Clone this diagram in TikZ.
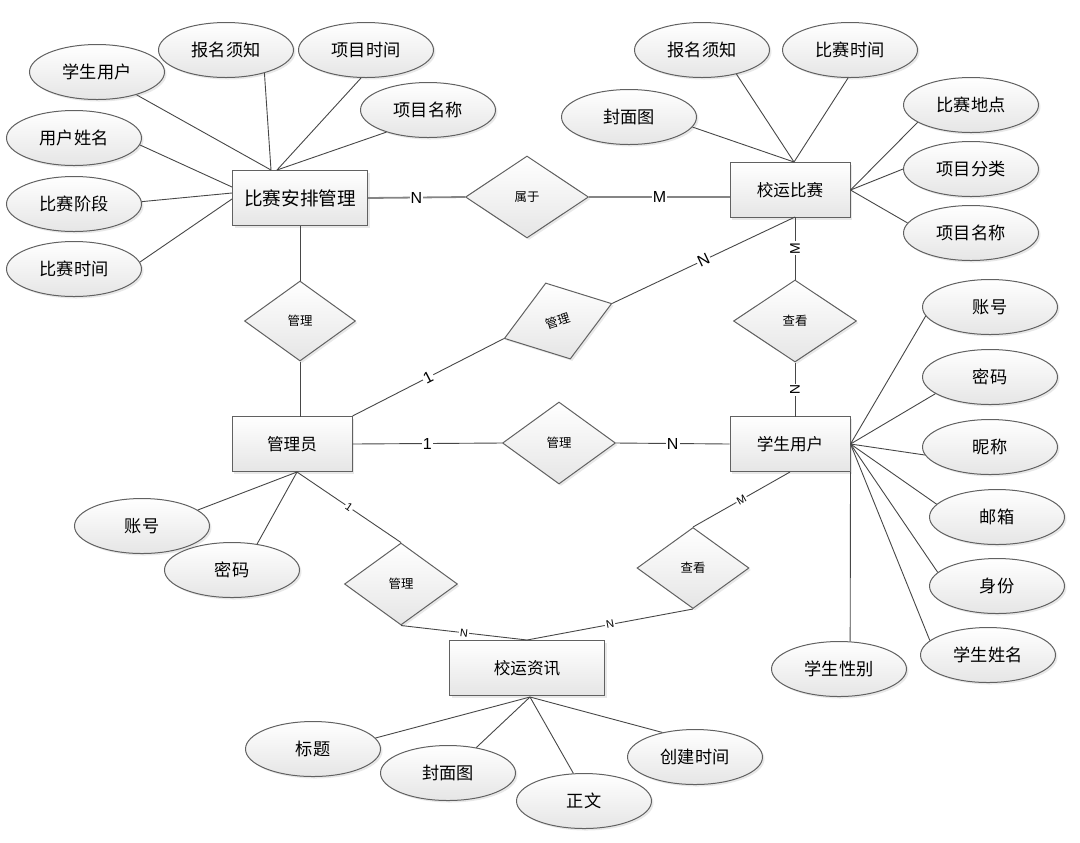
\documentclass[tikz,border=0pt]{standalone}
\usepackage{fontspec}
\newfontfamily\cjk{Noto Sans CJK SC}
\newfontfamily\labfont{Liberation Sans}
\usetikzlibrary{shapes.geometric,shadows}
\tikzset{
 shd/.style={top color=white,bottom color=black!10,draw=black!62,line width=.5pt,
  drop shadow={opacity=.18,shadow xshift=1pt,shadow yshift=-1pt}},
 ent/.style={shd,rectangle,minimum width=60pt,minimum height=27.5pt,inner sep=0pt,
  font=\cjk\fontsize{8.3}{8.3}\selectfont},
 att/.style={shd,ellipse,minimum width=67.5pt,minimum height=27.5pt,inner sep=0pt,
  font=\cjk\fontsize{8.6}{8.6}\selectfont},
 rel/.style={shd,diamond,minimum width=56.5pt,minimum height=41pt,inner sep=0pt,
  font=\cjk\fontsize{6.2}{6.2}\selectfont},
 card/.style={fill=white,inner sep=.6pt,font=\labfont\fontsize{8}{8}\selectfont},
 cardv/.style={card,sloped,font=\labfont\fontsize{7}{7}\selectfont},
 cards/.style={card,sloped,font=\labfont\fontsize{5.5}{5.5}\selectfont},
 ln/.style={draw=black!72,line width=.45pt},
 lnb/.style={draw=black!48,line width=.9pt}
}
\begin{document}
\begin{tikzpicture}[x=.5pt,y=-.5pt]
 \useasboundingbox (0,0) rectangle (1080,842);
 \path
 (300,198) node[ent,minimum width=67.5pt,font=\cjk\fontsize{9.3}{9.3}\selectfont] (ap) {比赛安排管理} % <<< 实体
 (790,190) node[ent] (xb) {校运比赛}
 (292,444) node[ent] (gly) {管理员}
 (790,444) node[ent] (su) {学生用户}
 (527,668) node[ent,minimum width=77.5pt] (zx) {校运资讯};
 \path
 (527,197) node[rel,minimum width=61.5pt] (sy) {属于} % <<< 联系
 (300,321) node[rel,minimum width=55.5pt,minimum height=40pt] (gl1) {管理}
 (558,321) node[rel,minimum height=40pt,rotate=18] (gl2) {管理}
 (559,443) node[rel] (gl3) {管理}
 (795,321) node[rel,minimum width=61.5pt] (ck1) {查看}
 (401,584) node[rel] (gl4) {管理}
 (693,568) node[rel,minimum width=56pt,minimum height=40.5pt] (ck2) {查看};
 \path
 (97,72) node[att] (a1) {学生用户} % <<< 比赛安排管理
 (226,50) node[att] (a2) {报名须知}
 (366,50) node[att] (a3) {项目时间}
 (428,110) node[att] (a4) {项目名称}
 (74,138) node[att] (a5) {用户姓名}
 (74,204) node[att] (a6) {比赛阶段}
 (74,269) node[att] (a7) {比赛时间}
 (629,117) node[att] (b1) {封面图} % <<< 校运比赛
 (702,50) node[att] (b2) {报名须知}
 (850,50) node[att] (b3) {比赛时间}
 (971,105) node[att] (b4) {比赛地点}
 (971,169) node[att] (b5) {项目分类}
 (971,233) node[att] (b6) {项目名称}
 (990,307) node[att] (c1) {账号} % <<< 学生用户
 (990,377) node[att] (c2) {密码}
 (990,447) node[att] (c3) {昵称}
 (997,517) node[att] (c4) {邮箱}
 (997,586) node[att] (c5) {身份}
 (988,655) node[att] (c6) {学生姓名}
 (839,669) node[att] (c7) {学生性别}
 (142,526) node[att] (d1) {账号} % <<< 管理员
 (232,570) node[att] (d2) {密码}
 (313,749) node[att] (e1) {标题} % <<< 校运资讯
 (448,773) node[att] (e2) {封面图}
 (584,801) node[att] (e3) {正文}
 (695,757) node[att] (e4) {创建时间};
 \coordinate (ap1) at (271,170);
 \coordinate (ap2) at (277,170);
 \coordinate (ap3) at (232,187);
 \coordinate (ap4) at (232,193);
 \coordinate (ap5) at (232,199);
 \coordinate (xbt) at (794,162);
 \coordinate (xbw) at (730,197);
 \coordinate (xbb) at (795,217);
 \coordinate (glyt) at (300,417);
 \coordinate (glyb) at (297,472);
 \coordinate (sut) at (795,417);
 \coordinate (zxb) at (530,697);
 \begin{scope}[lnb]
 \draw (ap.east)--node[card]{N}(sy.west);
 \draw (sy.east)--node[card]{M}(xbw);
 \end{scope}
 \begin{scope}[ln]
 \draw (ap.south)--(gl1.north);
 \draw (gl1.south)--(glyt);
 \draw (gly.north east)--node[card,sloped]{1}(gl2.west);
 \draw (gl2.east)--node[card,sloped]{N}(xbb);
 \draw (gly.east)--node[card]{1}(gl3.west);
 \draw (gl3.east)--node[card]{N}(su.west);
 \draw (ck1.north)--node[cardv]{M}(xbb);
 \draw (ck1.south)--node[cardv]{N}(sut);
 \draw (glyb)--node[cards]{1}(gl4.north);
 \draw (gl4.south)--node[cards]{N}(zx.north);
 \draw (su.south)--node[cards]{M}(ck2.north);
 \draw (ck2.south)--node[cards]{N}(zx.north);
 \draw (a1.330)--(ap1);
 \draw (a2.329)--(ap1);
 \draw (a3.260)--(ap2);
 \draw (a4.208)--(ap2);
 \draw (a5.354)--(ap3);
 \draw (a6.2)--(ap4);
 \draw (a7.6)--(ap5);
 \draw (b1.351)--(xbt);
 \draw (b2.325)--(xbt);
 \draw (b3.266)--(xbt);
 \draw (b4.198)--(xb.east);
 \draw (b5.180)--(xb.east);
 \draw (b6.171)--(xb.east);
 \draw (c1.188)--(su.east);
 \draw (c2.197)--(su.east);
 \draw (c3.187)--(su.east);
 \draw (c4.168)--(su.east);
 \draw (c5.167)--(su.east);
 \draw (c6.166)--(su.east);
 \draw (c7.68)--(su.south east);
 \draw (d1.16)--(glyb);
 \draw (d2.46)--(glyb);
 \draw (e1.10)--(zxb);
 \draw (e2.42)--(zxb);
 \draw (e3.111)--(zxb);
 \draw (e4.143)--(zxb);
 \end{scope}
\end{tikzpicture}
\end{document}
